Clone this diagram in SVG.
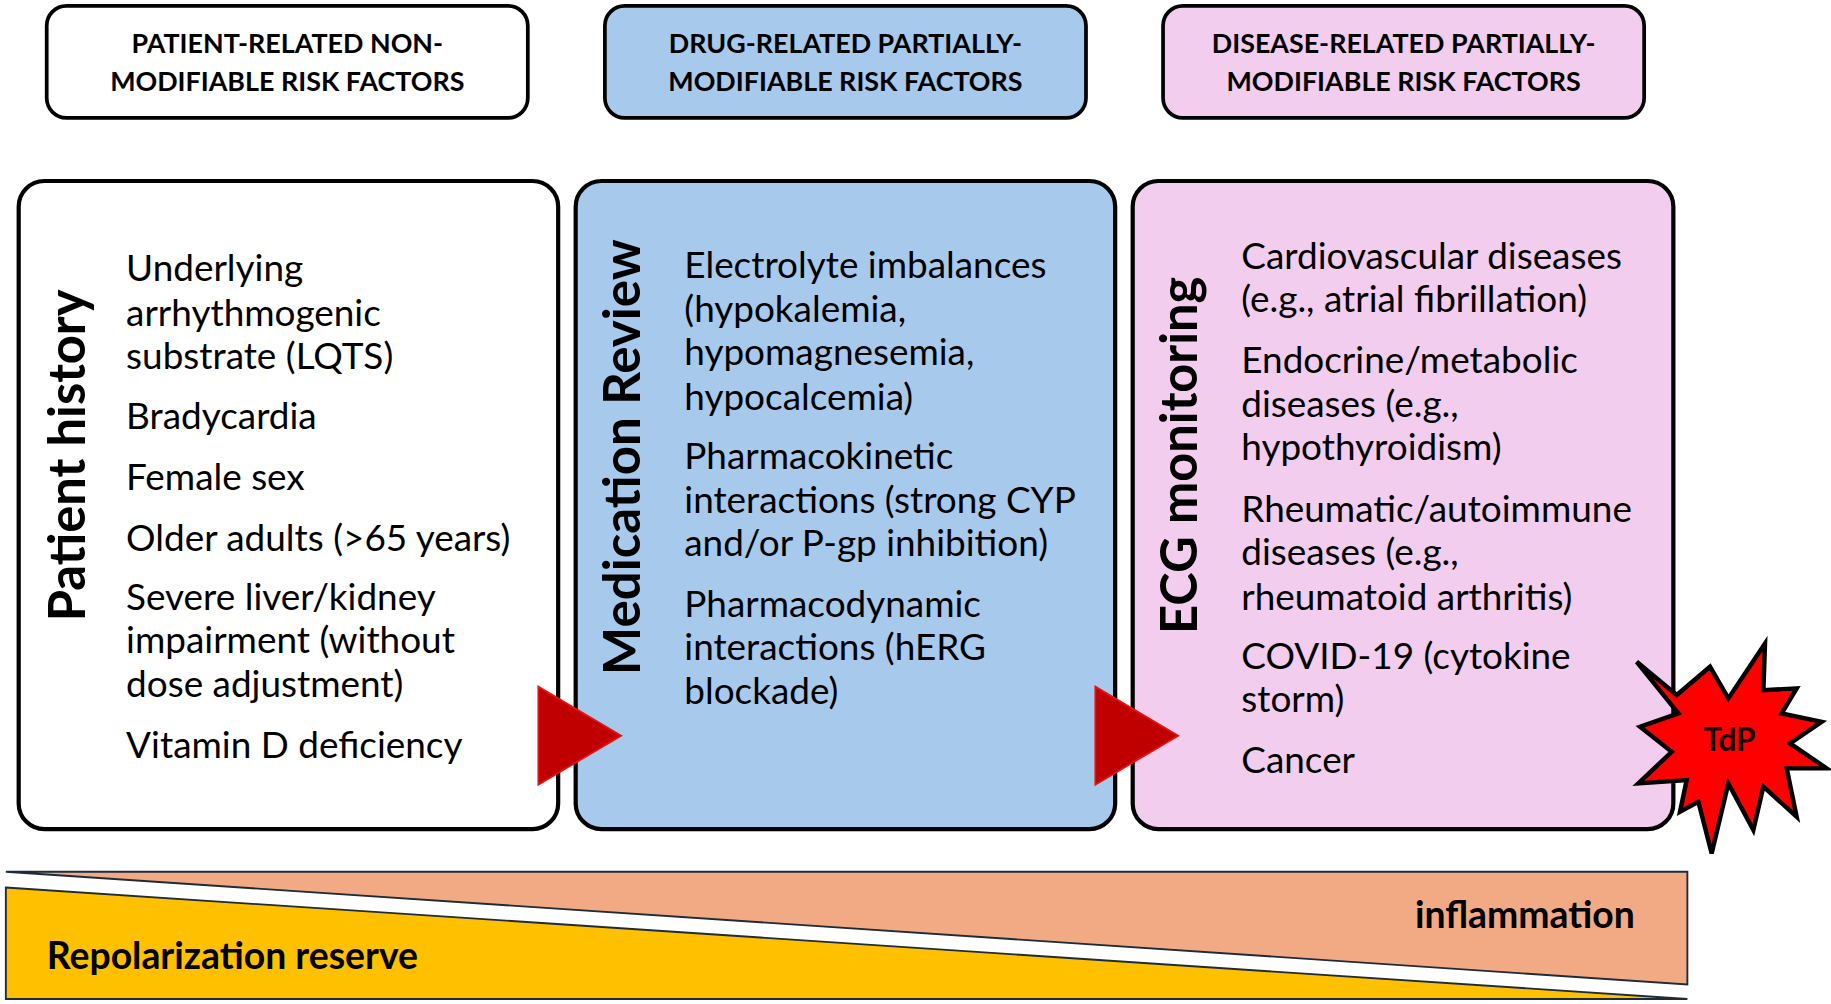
<svg xmlns="http://www.w3.org/2000/svg" width="1831" height="1004" viewBox="0 0 1831 1004">
<style>
.hdr{fill:#fff;stroke:#000;stroke-width:3.2}
.big{stroke:#000;stroke-width:3.6}
.ht{font-family:Lato,"Open Sans","Liberation Sans",sans-serif;font-weight:700;font-size:23px;fill:#000;text-anchor:middle}
.vt{font-family:Lato,"Open Sans","Liberation Sans",sans-serif;font-weight:700;font-size:44px;fill:#000;text-anchor:middle}
.bt{font-family:Lato,"Open Sans","Liberation Sans",sans-serif;font-size:31.6px;fill:#000}
.bb{font-family:Lato,"Open Sans","Liberation Sans",sans-serif;font-weight:700;font-size:32px;fill:#000}
.arr{fill:#C00000;stroke:#E01515;stroke-width:1.5}
.blue{fill:#A7C9EB}
.pink{fill:#F2CDEE}
.edge{stroke:#1E2B3A;stroke-width:1.6}
</style>
<rect width="1831" height="1004" fill="#fff"/>
<g transform="scale(1.16773)">
  <g id="hdr-patient">
    <rect class="hdr" x="40" y="5" width="412" height="96" rx="17"/>
    <text class="ht" x="246" y="45">PATIENT-RELATED NON-</text>
    <text class="ht" x="246" y="78">MODIFIABLE RISK FACTORS</text>
  </g>
  <g id="hdr-drug">
    <rect class="hdr blue" x="518" y="5" width="412" height="96" rx="17"/>
    <text class="ht" x="724" y="45">DRUG-RELATED PARTIALLY-</text>
    <text class="ht" x="724" y="78">MODIFIABLE RISK FACTORS</text>
  </g>
  <g id="hdr-disease">
    <rect class="hdr pink" x="996" y="5" width="412" height="96" rx="17"/>
    <text class="ht" x="1202" y="45">DISEASE-RELATED PARTIALLY-</text>
    <text class="ht" x="1202" y="78">MODIFIABLE RISK FACTORS</text>
  </g>

  <g id="bars">
    <polygon points="5,746.5 1445,746.5 1445,843" fill="#F2AA85" class="edge"/>
    <polygon points="5,760 1445,855.5 5,855.5" fill="#FFC000" class="edge"/>
    <text class="bb" x="1400" y="795" text-anchor="end">inflammation</text>
    <text class="bb" x="40" y="830">Repolarization reserve</text>
  </g>

  <g id="patient-history">
    <rect class="big" fill="#fff" x="16" y="155" width="462" height="555" rx="22"/>
    <text class="vt" transform="translate(73,390) rotate(-90)" textLength="284" lengthAdjust="spacingAndGlyphs">Patient history</text>
    <text class="bt" x="108" y="241">Underlying</text>
    <text class="bt" x="108" y="279">arrhythmogenic</text>
    <text class="bt" x="108" y="316">substrate (LQTS)</text>
    <text class="bt" x="108" y="367">Bradycardia</text>
    <text class="bt" x="108" y="420">Female sex</text>
    <text class="bt" x="108" y="472">Older adults (&gt;65 years)</text>
    <text class="bt" x="108" y="522">Severe liver/kidney</text>
    <text class="bt" x="108" y="559">impairment (without</text>
    <text class="bt" x="108" y="597">dose adjustment)</text>
    <text class="bt" x="108" y="649">Vitamin D deficiency</text>
  </g>

  <g id="medication-review">
    <rect class="big blue" x="493" y="155" width="462" height="555" rx="22"/>
    <text class="vt" transform="translate(548,391.5) rotate(-90)" textLength="373" lengthAdjust="spacingAndGlyphs">Medication Review</text>
    <text class="bt" x="586" y="238">Electrolyte imbalances</text>
    <text class="bt" x="586" y="276">(hypokalemia,</text>
    <text class="bt" x="586" y="313">hypomagnesemia,</text>
    <text class="bt" x="586" y="351">hypocalcemia)</text>
    <text class="bt" x="586" y="402">Pharmacokinetic</text>
    <text class="bt" x="586" y="439">interactions (strong CYP</text>
    <text class="bt" x="586" y="476">and/or P-gp inhibition)</text>
    <text class="bt" x="586" y="528">Pharmacodynamic</text>
    <text class="bt" x="586" y="565">interactions (hERG</text>
    <text class="bt" x="586" y="603">blockade)</text>
  </g>

  <g id="ecg-monitoring">
    <rect class="big pink" x="970" y="155" width="463" height="555" rx="22"/>
    <text class="vt" transform="translate(1025,390) rotate(-90)" textLength="306" lengthAdjust="spacingAndGlyphs">ECG monitoring</text>
    <text class="bt" x="1063" y="230">Cardiovascular diseases</text>
    <text class="bt" x="1063" y="267">(e.g., atrial fibrillation)</text>
    <text class="bt" x="1063" y="319">Endocrine/metabolic</text>
    <text class="bt" x="1063" y="357">diseases (e.g.,</text>
    <text class="bt" x="1063" y="394">hypothyroidism)</text>
    <text class="bt" x="1063" y="447">Rheumatic/autoimmune</text>
    <text class="bt" x="1063" y="484">diseases (e.g.,</text>
    <text class="bt" x="1063" y="522">rheumatoid arthritis)</text>
    <text class="bt" x="1063" y="573">COVID-19 (cytokine</text>
    <text class="bt" x="1063" y="610">storm)</text>
    <text class="bt" x="1063" y="662">Cancer</text>
  </g>

  <g id="connectors">
    <polygon class="arr" points="461,588 461,672 532,630"/>
    <polygon class="arr" points="938,588 938,672 1009,630"/>
  </g>

  <g id="tdp">
    <polygon points="1401.6,566.7 1435.9,595.2 1464.4,571 1480.1,598.1 1511.5,551 1510.1,591 1538.6,589.5 1525.8,610.9 1560,618.1 1532.9,636.6 1564.3,658 1530.1,658 1538.6,699.4 1510.1,673.7 1501.5,710.8 1480.1,670.9 1465.8,730.8 1454.4,686.6 1438.7,695.1 1444.4,668 1403,670.9 1431.6,643.8 1404.5,622.3 1437.3,610.9" fill="#FF0000" stroke="#000" stroke-width="3.8" stroke-linejoin="miter"/>
    <text x="1481" y="643" font-family="Lato,'Open Sans','Liberation Sans',sans-serif" font-weight="700" font-size="27" fill="#1A0000" text-anchor="middle">TdP</text>
  </g>
</g>
</svg>
